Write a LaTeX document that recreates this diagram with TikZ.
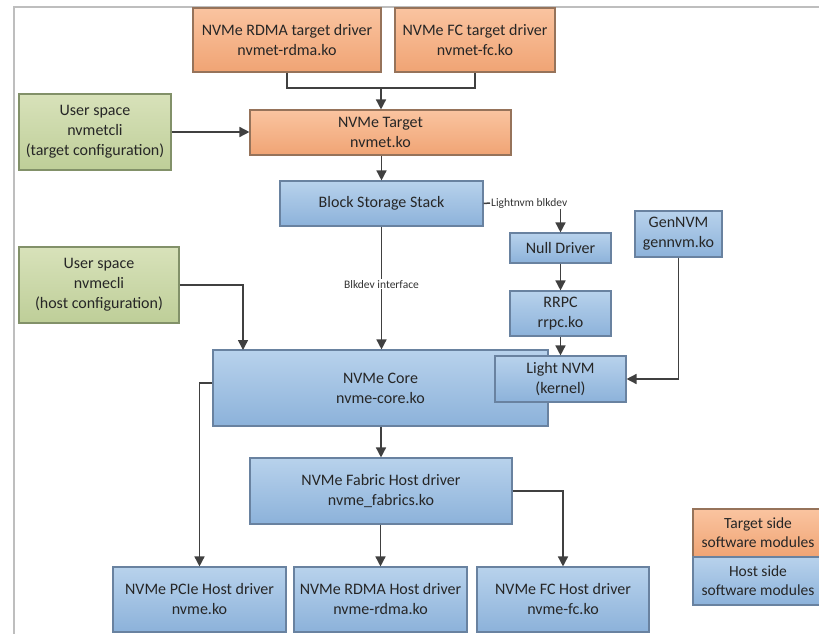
\documentclass[tikz,border=0pt]{standalone}
\usepackage{fontspec}
\setmainfont{Carlito}
\usetikzlibrary{arrows.meta,calc}
\definecolor{blueT}{RGB}{184,210,236}
\definecolor{blueB}{RGB}{140,178,218}
\definecolor{blueD}{RGB}{105,130,160}
\definecolor{orT}{RGB}{250,196,160}
\definecolor{orB}{RGB}{240,164,116}
\definecolor{orD}{RGB}{150,115,90}
\definecolor{grT}{RGB}{216,226,186}
\definecolor{grB}{RGB}{190,206,152}
\definecolor{grD}{RGB}{130,145,105}
\definecolor{arr}{RGB}{64,64,64}
\definecolor{frame}{RGB}{190,190,190}
\tikzset{
  box/.style={rectangle, draw, line width=1.1pt, inner sep=0pt, align=center,
    font=\fontsize{16}{20}\selectfont, text=black!85},
  bluebox/.style={box, draw=blueD, top color=blueT, bottom color=blueB},
  orbox/.style={box, draw=orD, top color=orT, bottom color=orB},
  grbox/.style={box, draw=grD, top color=grT, bottom color=grB},
  legfont/.style={font=\fontsize{15.5}{19}\selectfont},
  conn/.style={draw=arr, line width=1.5pt},
  arrw/.style={conn, -{Triangle[length=10pt,width=10pt]}},
  small/.style={font=\fontsize{11.5}{13}\selectfont, text=black!80, inner sep=1pt},
}
\begin{document}
\begin{tikzpicture}[x=1pt,y=-1pt]
\useasboundingbox (0,0) rectangle (819,634);
\clip (0,0) rectangle (819,634);
\draw[frame, line width=2pt] (14,640) -- (14,7) -- (830,7);

% target side
\node[orbox, minimum width=188, minimum height=64] (rdmat) at (287,40) {NVMe RDMA target driver\\nvmet-rdma.ko};
\node[orbox, minimum width=160, minimum height=64] (fct) at (475,40) {NVMe FC target driver\\nvmet-fc.ko};
\node[orbox, minimum width=261, minimum height=45] (target) at (380.5,132.5) {NVMe Target\\nvmet.ko};
\node[grbox, minimum width=152, minimum height=76] (ucli1) at (95,132) {User space\\nvmetcli\\(target configuration)};

% host side
\node[bluebox, minimum width=203, minimum height=45] (bss) at (381.5,203.5) {Block Storage Stack};
\node[bluebox, minimum width=101, minimum height=30] (null) at (560.5,248) {Null Driver};
\node[bluebox, minimum width=87, minimum height=46] (gen) at (678.5,234) {GenNVM\\gennvm.ko};
\node[bluebox, minimum width=101, minimum height=45] (rrpc) at (560.5,313.5) {RRPC\\rrpc.ko};
\node[grbox, minimum width=160, minimum height=76] (ucli2) at (99,285) {User space\\nvmecli\\(host configuration)};
\node[bluebox, minimum width=335, minimum height=76] (core) at (380.5,388) {NVMe Core\\nvme-core.ko};
\node[bluebox, minimum width=262, minimum height=66] (fab) at (381,491) {NVMe Fabric Host driver\\nvme\_fabrics.ko};
\node[bluebox, minimum width=173, minimum height=65] (pcie) at (199.5,599.5) {NVMe PCIe Host driver\\nvme.ko};
\node[bluebox, minimum width=173, minimum height=65] (rdmah) at (380.5,599.5) {NVMe RDMA Host driver\\nvme-rdma.ko};
\node[bluebox, minimum width=172, minimum height=65] (fch) at (563,599.5) {NVMe FC Host driver\\nvme-fc.ko};

% legend
\node[orbox, legfont, minimum width=130, minimum height=48] (legT) at (758,533) {Target side\\software modules};
\node[bluebox, legfont, minimum width=130, minimum height=48] (legH) at (758,581) {Host side\\software modules};

% connectors
\coordinate (j1) at (381,88);
\draw[conn] (rdmat.south) |- (j1) -| (fct.south);
\draw[arrw] (j1) -- (j1 |- target.north);
\draw[arrw] (ucli1.east) -- (ucli1.east -| target.west);
\draw[arrw] (target.south -| bss.north) -- (bss.north);

\node[small, anchor=west] (lblk) at (490,203) {Lightnvm blkdev};
\draw[conn] (bss.east) -- (lblk.west);
\draw[arrw] (lblk.south -| null.north) -- (null.north);
\draw[arrw] (null.south) -- (rrpc.north);

\coordinate (c2) at (243,350);
\draw[arrw] (ucli2.east) -| (c2);
\draw[arrw] (bss.south) -- (bss.south |- core.north) node[pos=0.47, small, fill=white] (lbd) {Blkdev interface};
\draw[arrw] (core.south -| fab.north) -- (fab.north);
\draw[arrw] ([yshift=5pt]core.west) -| (pcie.north);
\draw[arrw] (fab.south -| rdmah.north) -- (rdmah.north);
\draw[arrw] (fab.east) -| (fch.north);

% Light NVM lies on top of NVMe Core
\node[bluebox, minimum width=131, minimum height=46] (lnvm) at (560.5,379) {Light NVM\\(kernel)};
\draw[arrw] (rrpc.south) -- (lnvm.north);
\draw[arrw] (gen.south) |- (lnvm.east);
\end{tikzpicture}
\end{document}
